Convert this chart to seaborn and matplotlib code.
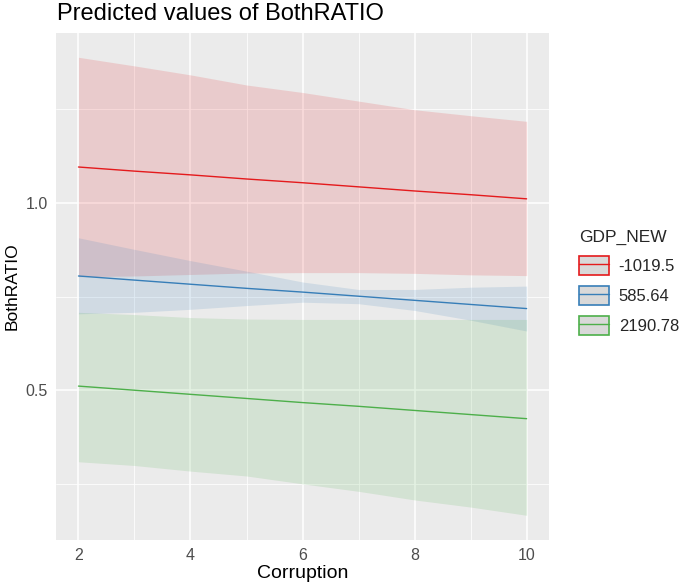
import numpy as np
import pandas as pd
import matplotlib
matplotlib.use("Agg")
import matplotlib.pyplot as plt
import seaborn as sns
from matplotlib.patches import Patch
from matplotlib.lines import Line2D
from matplotlib.legend_handler import HandlerTuple
from matplotlib.ticker import MultipleLocator

# --- data -------------------------------------------------------------------
corruption = [2, 3, 4, 5, 6, 7, 8, 9, 10]
groups = ["-1019.5", "585.64", "2190.78"]

pred_low_gdp = [1.096, 1.085, 1.075, 1.064, 1.054, 1.043, 1.032, 1.022, 1.011]
upper_low_gdp = [1.389, 1.366, 1.342, 1.315, 1.295, 1.272, 1.249, 1.233, 1.218]
lower_low_gdp = [0.803, 0.805, 0.809, 0.813, 0.814, 0.814, 0.812, 0.808, 0.806]

pred_mid_gdp = [0.805, 0.794, 0.783, 0.772, 0.762, 0.751, 0.740, 0.729, 0.718]
upper_mid_gdp = [0.907, 0.876, 0.846, 0.818, 0.789, 0.769, 0.769, 0.775, 0.778]
lower_mid_gdp = [0.704, 0.708, 0.716, 0.726, 0.735, 0.731, 0.713, 0.687, 0.658]

pred_high_gdp = [0.511, 0.500, 0.489, 0.478, 0.467, 0.457, 0.446, 0.435, 0.424]
upper_high_gdp = [0.708, 0.702, 0.694, 0.690, 0.689, 0.689, 0.689, 0.689, 0.689]
lower_high_gdp = [0.309, 0.299, 0.284, 0.271, 0.250, 0.230, 0.207, 0.188, 0.166]

colors = ["#E41A1C", "#377EB8", "#4DAF4A"]

# long table for seaborn
df = pd.concat([
    pd.DataFrame({"Corruption": corruption, "BothRATIO": p, "lo": lo, "hi": hi, "GDP_NEW": g})
    for g, p, lo, hi in [
        (groups[0], pred_low_gdp, lower_low_gdp, upper_low_gdp),
        (groups[1], pred_mid_gdp, lower_mid_gdp, upper_mid_gdp),
        (groups[2], pred_high_gdp, lower_high_gdp, upper_high_gdp),
    ]
])

# --- ggplot-like theme ------------------------------------------------------
sns.set_theme(style="darkgrid", rc={
    "axes.facecolor": "#EBEBEB",
    "grid.color": "white",
    "axes.edgecolor": "none",
})
plt.rcParams["font.family"] = ["Liberation Sans", "DejaVu Sans"]

fig = plt.figure(figsize=(6.8, 5.88), dpi=100)
ax = fig.add_axes([0.0824, 0.0816, 0.7250, 0.8624])

# confidence bands
for g, c in zip(groups, colors):
    sub = df[df["GDP_NEW"] == g]
    ax.fill_between(sub["Corruption"], sub["lo"], sub["hi"], color=c, alpha=0.15, lw=0)

sns.lineplot(data=df, x="Corruption", y="BothRATIO", hue="GDP_NEW",
             palette=colors, hue_order=groups, lw=1.0, ax=ax, legend=False)

ax.set_xlim(1.6, 10.4)
ax.set_ylim(0.1, 1.454)
ax.set_xticks([2, 4, 6, 8, 10])
ax.set_yticks([0.5, 1.0])
ax.set_yticklabels(["0.5", "1.0"])
ax.xaxis.set_minor_locator(MultipleLocator(1))
ax.yaxis.set_minor_locator(MultipleLocator(0.25))
ax.grid(which="major", color="white", lw=1.1)
ax.grid(which="minor", color="white", lw=0.55)
ax.tick_params(which="major", length=3, width=0.8, color="#333333",
               labelcolor="#4D4D4D", labelsize=11.5, pad=3)
ax.tick_params(which="minor", length=0)
for s in ax.spines.values():
    s.set_visible(False)

ax.set_xlabel("Corruption", fontsize=14, color="black", labelpad=1)
ax.set_ylabel("BothRATIO", fontsize=12.5, color="black", labelpad=4)
fig.text(0.084, 0.977, "Predicted values of BothRATIO", fontsize=17,
         ha="left", va="center", color="black")

# legend keys: grey box with coloured outline and a line through it
handles = [(Patch(facecolor="#D9D9D9", edgecolor=c, lw=1.2),
            Line2D([], [], color=c, lw=1.0)) for c in colors]
leg = fig.legend(handles, groups, title="GDP_NEW",
                 handler_map={tuple: HandlerTuple(ndivide=1, pad=0)},
                 loc="upper left", bbox_to_anchor=(0.851, 0.609),
                 frameon=False, fontsize=12, title_fontsize=12.5,
                 handlelength=1.8, handleheight=1.35, labelspacing=0.68,
                 handletextpad=0.6, borderaxespad=0, borderpad=0)
leg._legend_box.align = "left"

fig.savefig("out.png", dpi=100, facecolor="white")
